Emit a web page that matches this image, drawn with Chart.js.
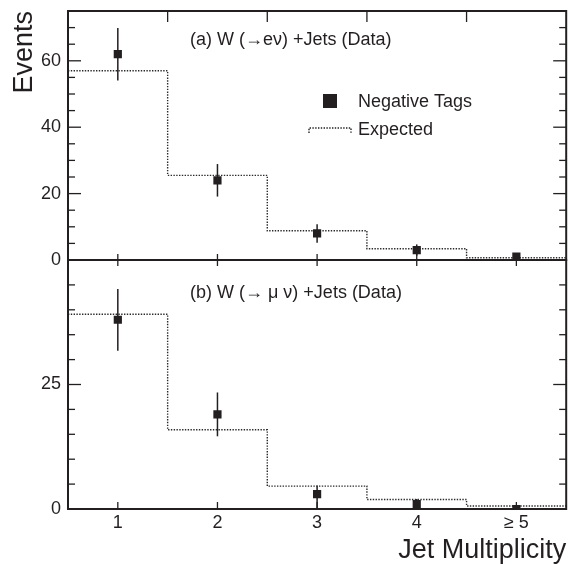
<!DOCTYPE html>
<html>
<head>
<meta charset="utf-8">
<script src="https://cdn.jsdelivr.net/npm/chart.js@4/dist/chart.umd.min.js"></script>
<style>
  html, body { margin: 0; padding: 0; background: #fff; }
  canvas { display: block; }
</style>
</head>
<body>
<canvas id="jetChart" width="572" height="564"></canvas>
<script>
// jet multiplicity bins
const jetBins = [1, 2, 3, 4, 5];
const jetLabels = ['1', '2', '3', '4', '\u2265 5'];

// (a) W -> e nu
const eleTags = [62, 24, 8, 3, 1];
const eleErr = [7.9, 4.9, 2.8, 1.7, 1.0];
const eleExpected = [57, 25.5, 8.8, 3.4, 0.7];

// (b) W -> mu nu
const muTags = [38, 19, 3, 1, 0];
const muErrUp = [6.2, 4.4, 1.7, 1.0, 0.6];
const muErrDown = [6.2, 4.4, 3.0, 1.0, 0];
const muExpected = [39.1, 15.9, 4.6, 1.9, 0.6];

const topTicks = [0, 20, 40, 60];
const botTicks = [0, 25];
const minorStep = 5;

const ink = '#231f20';
const fontFamily = '"Liberation Sans", Arial, Helvetica, sans-serif';

// histogram edges for the expected step lines
function stepPoints(vals) {
  const pts = vals.map((v, i) => ({ x: jetBins[i] - 0.5, y: v }));
  pts.push({ x: jetBins[jetBins.length - 1] + 0.5, y: vals[vals.length - 1] });
  return pts;
}
function markPoints(vals) {
  return jetBins.map((b, i) => ({ x: b, y: vals[i] }));
}

function line(ctx, x1, y1, x2, y2) {
  ctx.beginPath();
  ctx.moveTo(x1, y1);
  ctx.lineTo(x2, y2);
  ctx.stroke();
}

// no extra label padding, the frame is placed by layout.padding
function fixBox(s, w, h) {
  if (w) s.width = w;
  if (h) s.height = h;
  s.paddingTop = 0;
  s.paddingBottom = 0;
  s.paddingLeft = 0;
  s.paddingRight = 0;
}

const panelPlugin = {
  id: 'panels',
  beforeDatasetsDraw(chart) {
    const ctx = chart.ctx;
    const xs = chart.scales.x;
    const bars = [
      { s: chart.scales.yTop, v: eleTags, up: eleErr, dn: eleErr },
      { s: chart.scales.yBot, v: muTags, up: muErrUp, dn: muErrDown }
    ];
    ctx.save();
    ctx.strokeStyle = ink;
    ctx.lineWidth = 1.5;
    bars.forEach(p => {
      jetBins.forEach((b, i) => {
        const x = xs.getPixelForValue(b);
        line(ctx, x, p.s.getPixelForValue(p.v[i] + p.up[i]), x, p.s.getPixelForValue(p.v[i] - p.dn[i]));
      });
    });
    ctx.restore();
  },
  afterDraw(chart) {
    const ctx = chart.ctx;
    const xs = chart.scales.x;
    const top = chart.scales.yTop;
    const bot = chart.scales.yBot;
    const left = chart.chartArea.left;
    const right = chart.chartArea.right;
    ctx.save();
    ctx.strokeStyle = ink;

    // y ticks, both sides, pointing inwards
    ctx.lineWidth = 1.3;
    [[top, topTicks], [bot, botTicks]].forEach(([s, majors]) => {
      for (let v = s.min; v <= s.max; v += minorStep) {
        const y = s.getPixelForValue(v);
        const len = majors.includes(v) ? 13 : 7;
        line(ctx, left, y, left + len, y);
        line(ctx, right, y, right - len, y);
      }
    });

    // x ticks
    jetBins.forEach(b => {
      const x = xs.getPixelForValue(b);
      line(ctx, x, bot.bottom, x, bot.bottom - 7);
      line(ctx, x, bot.top, x, bot.top + 6);
      line(ctx, x, top.bottom, x, top.bottom - 6);
    });
    jetBins.slice(0, -1).forEach(b => {
      const x = xs.getPixelForValue(b + 0.5);
      line(ctx, x, top.top, x, top.top + 11);
    });

    // frames
    ctx.lineWidth = 2;
    ctx.strokeRect(left, top.top, right - left, top.bottom - top.top);
    ctx.strokeRect(left, bot.top, right - left, bot.bottom - bot.top);

    // panel captions
    ctx.fillStyle = ink;
    ctx.font = '18px ' + fontFamily;
    ctx.textAlign = 'left';
    ctx.textBaseline = 'middle';
    ctx.fillText('(a) W (\u2192e\u03bd) +Jets (Data)', left + 122, top.top + 29);
    ctx.fillText('(b) W (\u2192 \u03bc \u03bd) +Jets (Data)', left + 122, bot.top + 33);

    // legend
    const lx = left + 240;
    const ly = top.top + 90;
    ctx.fillRect(lx + 15, ly - 7, 14, 14);
    ctx.fillText(chart.data.datasets[0].label, lx + 50, ly + 1);
    ctx.lineWidth = 1.4;
    ctx.setLineDash([1.4, 1.4]);
    ctx.beginPath();
    ctx.moveTo(lx + 1, ly + 32);
    ctx.lineTo(lx + 1, ly + 27);
    ctx.lineTo(lx + 43, ly + 27);
    ctx.lineTo(lx + 43, ly + 32);
    ctx.stroke();
    ctx.setLineDash([]);
    ctx.fillText(chart.data.datasets[1].label, lx + 50, ly + 29);
    ctx.restore();
  }
};

const tickFont = { family: fontFamily, size: 18 };
const expectedStyle = {
  type: 'line',
  borderColor: '#2a2a2a',
  borderWidth: 1.4,
  borderDash: [1.4, 1.4],
  pointRadius: 0,
  stepped: 'before',
  fill: false
};
const tagStyle = {
  type: 'scatter',
  pointStyle: 'rect',
  pointRadius: 5.8,
  backgroundColor: ink,
  borderColor: ink,
  borderWidth: 0
};

new Chart(document.getElementById('jetChart'), {
  data: {
    datasets: [
      Object.assign({ label: 'Negative Tags', data: markPoints(eleTags), yAxisID: 'yTop' }, tagStyle),
      Object.assign({ label: 'Expected', data: stepPoints(eleExpected), yAxisID: 'yTop' }, expectedStyle),
      Object.assign({ label: 'Negative Tags', data: markPoints(muTags), yAxisID: 'yBot' }, tagStyle),
      Object.assign({ label: 'Expected', data: stepPoints(muExpected), yAxisID: 'yBot' }, expectedStyle)
    ]
  },
  options: {
    responsive: false,
    animation: false,
    layout: { padding: { top: 11, right: 5, left: 0, bottom: 0 } },
    plugins: { legend: { display: false }, tooltip: { enabled: false } },
    scales: {
      x: {
        type: 'linear',
        position: 'bottom',
        min: 0.5,
        max: 5.5,
        grid: { display: false, drawTicks: false },
        border: { display: false },
        afterBuildTicks: s => { s.ticks = jetBins.map(v => ({ value: v })); },
        afterFit: s => fixBox(s, 0, 55),
        ticks: {
          padding: 3,
          color: ink,
          font: tickFont,
          maxRotation: 0,
          autoSkip: false,
          callback: v => jetLabels[jetBins.indexOf(v)]
        },
        title: {
          display: true,
          text: 'Jet Multiplicity',
          align: 'end',
          color: ink,
          padding: 0,
          font: { family: fontFamily, size: 27, lineHeight: 1 }
        }
      },
      yTop: {
        type: 'linear',
        position: 'left',
        stack: 'panels',
        stackWeight: 1,
        weight: 2,
        min: 0,
        max: 75,
        grid: { display: false, drawTicks: false },
        border: { display: false },
        afterBuildTicks: s => { s.ticks = topTicks.map(v => ({ value: v })); },
        afterFit: s => fixBox(s, 68, 0),
        ticks: { padding: 7, color: ink, font: tickFont, autoSkip: false },
        title: {
          display: true,
          text: 'Events',
          align: 'end',
          color: ink,
          padding: 11,
          font: { family: fontFamily, size: 27, lineHeight: 1 }
        }
      },
      yBot: {
        type: 'linear',
        position: 'left',
        stack: 'panels',
        stackWeight: 1,
        weight: 1,
        min: 0,
        max: 50,
        grid: { display: false, drawTicks: false },
        border: { display: false },
        afterBuildTicks: s => { s.ticks = botTicks.map(v => ({ value: v })); },
        afterFit: s => fixBox(s, 68, 0),
        ticks: { padding: 7, color: ink, font: tickFont, autoSkip: false }
      }
    }
  },
  plugins: [panelPlugin]
});
</script>
</body>
</html>
